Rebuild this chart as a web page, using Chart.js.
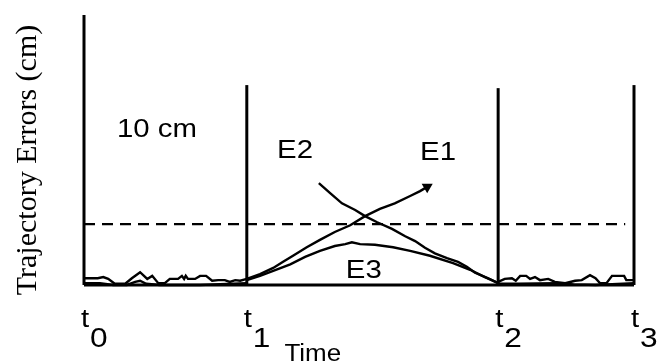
<!DOCTYPE html>
<html>
<head>
<meta charset="utf-8">
<script src="https://cdn.jsdelivr.net/npm/chart.js@4"></script>
<style>
  body { margin: 0; background: #fff; }
  canvas { display: block; }
</style>
</head>
<body>
<canvas id="c" width="662" height="363"></canvas>
<script>
// time marks t0..t3 (s) and height of the phase boundary lines (cm)
const tickTimes = [0, 2.96, 7.53, 10];
const tickLabels = ["0", "1", "2", "3"];
const boundaryTops = [44.3, 32.8, 32.3, 32.8];
const threshold = 10;
const thresholdEnd = 9.84;

// noise before t1
const noiseA_t = [0, 0.25, 0.35, 0.44, 0.56, 0.75, 0.87, 1.02, 1.15, 1.24, 1.35, 1.47, 1.56, 1.71, 1.78, 1.82, 1.85, 1.89, 2.02, 2.11, 2.22, 2.33, 2.44, 2.56, 2.65, 2.75, 2.84, 2.96];
const noiseA_e = [1.1, 1.1, 1.3, 1.0, 0.2, 0.2, 1.1, 2.1, 1.0, 1.5, 0.3, 0.3, 1.0, 1.0, 1.5, 1.0, 1.5, 1.0, 1.0, 1.5, 1.5, 0.7, 0.8, 0.8, 0.5, 0.8, 0.7, 1.0];
const noiseB_t = [0, 0.29, 0.53, 0.78, 0.93, 1.02, 1.13, 1.38, 2.11, 2.96];
const noiseB_e = [0.3, 0.3, 0, 0, 0.5, 0.7, 0.2, 0, 0, 0.3];

// noise after t2
const noiseC_t = [7.53, 7.65, 7.78, 7.85, 7.93, 8.04, 8.11, 8.2, 8.29, 8.44, 8.56, 8.75, 8.93, 9.05, 9.2, 9.3, 9.38, 9.5, 9.6, 9.82, 9.86, 10];
const noiseC_e = [0.5, 1.0, 1.1, 0.7, 1.5, 1.5, 1.0, 1.3, 0.8, 1.0, 0.5, 0.3, 0.7, 0.8, 1.6, 1.1, 0.3, 0.3, 1.5, 1.5, 0.8, 0.8];
const noiseD_t = [7.53, 7.9, 8.6, 8.9, 9.3, 10];
const noiseD_e = [0.2, 0.2, 0.3, 0.1, 0, 0.3];

// error curves between t1 and t2
const e1_t = [2.96, 3.2, 3.44, 3.62, 3.8, 4.05, 4.29, 4.56, 4.84, 5.11, 5.38, 5.65, 5.93, 6.11, 6.24];
const e1_e = [1.0, 1.8, 2.8, 3.8, 4.8, 6.2, 7.4, 8.7, 9.8, 11.3, 12.5, 13.4, 14.6, 15.4, 16.1];
const e2_t = [4.27, 4.47, 4.69, 4.93, 5.11, 5.33, 5.6, 5.84, 6.02, 6.2, 6.38, 6.6, 6.8, 6.96, 7.11, 7.35, 7.53];
const e2_e = [16.7, 15.1, 13.4, 12.3, 11.3, 10.3, 9.2, 8.0, 7.2, 6.1, 5.2, 4.4, 3.8, 3.0, 2.0, 1.1, 0.3];
const e3_t = [2.96, 3.2, 3.44, 3.75, 4.02, 4.29, 4.56, 4.75, 4.87, 5.02, 5.29, 5.62, 5.93, 6.29, 6.71, 7.02, 7.29, 7.53];
const e3_e = [0.8, 1.5, 2.3, 3.4, 4.6, 5.6, 6.4, 6.7, 7.0, 6.7, 6.6, 6.2, 5.6, 4.8, 3.6, 2.5, 1.3, 0.3];

// text labels placed in data coordinates
const labels = [
  { text: "10 cm", t: 0.6, e: 24.3 },
  { text: "E2", t: 3.51, e: 20.8 },
  { text: "E1", t: 6.11, e: 20.5 },
  { text: "E3", t: 4.76, e: 1.1 }
];

const pts = (ts, es) => ts.map((t, i) => ({ x: t, y: es[i] }));
const line = (data, extra) => Object.assign({
  data: data,
  borderColor: "#000",
  borderWidth: 2.4,
  pointRadius: 0,
  tension: 0,
  clip: false
}, extra || {});

const datasets = [
  line(pts(noiseA_t, noiseA_e)),
  line(pts(noiseB_t, noiseB_e)),
  line(pts(noiseC_t, noiseC_e)),
  line(pts(noiseD_t, noiseD_e)),
  line(pts(e3_t, e3_e)),
  line(pts(e2_t, e2_e)),
  line(pts(e1_t, e1_e), {
    pointRadius: e1_t.map((_, i) => i === e1_t.length - 1 ? 4 : 0),
    pointStyle: "triangle",
    pointRotation: 60,
    pointBackgroundColor: "#000",
    pointBorderColor: "#000"
  }),
  line([{ x: 0, y: threshold }, { x: thresholdEnd, y: threshold }], { borderDash: [11, 7], borderWidth: 2.2 }),
  line([{ x: tickTimes[0], y: 0 }, { x: tickTimes[3], y: 0 }], { borderWidth: 3 })
];
for (let i = 0; i < tickTimes.length; i++) {
  datasets.push(line([{ x: tickTimes[i], y: 0 }, { x: tickTimes[i], y: boundaryTops[i] }], { borderWidth: 3 }));
}

const SANS = "'Liberation Sans', Arial, sans-serif";
// the reference text is a bit wider than plain Arial
function wideText(ctx, text, px, py, size, align) {
  ctx.save();
  ctx.font = size + "px " + SANS;
  ctx.translate(px, py);
  ctx.scale(1.13, 1);
  ctx.textAlign = align || "left";
  ctx.fillText(text, 0, 0);
  ctx.restore();
}

const textPlugin = {
  id: "texts",
  afterDatasetsDraw(chart) {
    const { ctx, chartArea, scales: { x, y } } = chart;
    ctx.save();
    ctx.fillStyle = "#000";
    ctx.textBaseline = "alphabetic";
    for (const l of labels) {
      wideText(ctx, l.text, x.getPixelForValue(l.t), y.getPixelForValue(l.e), 26);
    }
    // t with subscript under each boundary
    for (let i = 0; i < tickTimes.length; i++) {
      const px = x.getPixelForValue(tickTimes[i]);
      wideText(ctx, "t", px - 3, chartArea.bottom + 42, 26);
      wideText(ctx, tickLabels[i], px + 6, chartArea.bottom + 62, 28);
    }
    wideText(ctx, "Time", x.getPixelForValue(4.16), chartArea.bottom + 76, 23, "center");
    ctx.translate(28, 160);
    ctx.rotate(-Math.PI / 2);
    ctx.textAlign = "center";
    ctx.textBaseline = "middle";
    ctx.font = "30px 'Liberation Serif', 'Times New Roman', serif";
    ctx.fillText("Trajectory Errors (cm)", 0, 0);
    ctx.restore();
  }
};

new Chart(document.getElementById("c"), {
  type: "line",
  data: { datasets: datasets },
  options: {
    responsive: false,
    animation: false,
    layout: { padding: { left: 84, right: 28, top: 15, bottom: 78 } },
    plugins: { legend: { display: false }, tooltip: { enabled: false } },
    scales: {
      x: { type: "linear", min: 0, max: 10, display: false },
      y: { type: "linear", min: 0, max: 44.3, display: false }
    }
  },
  plugins: [textPlugin]
});
</script>
</body>
</html>
